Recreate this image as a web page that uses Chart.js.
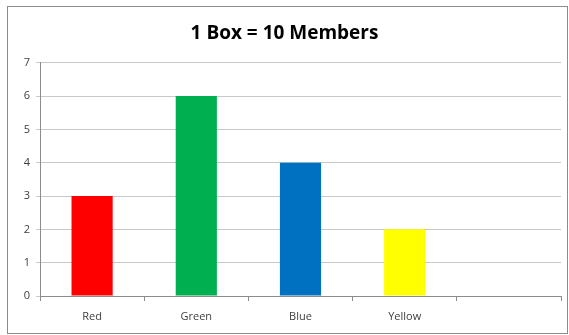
<!DOCTYPE html>
<html>
<head>
<meta charset="utf-8">
<script src="https://cdn.jsdelivr.net/npm/chart.js@4"></script>
<style>
  html, body { margin: 0; padding: 0; background: #fff; }
  #frame {
    position: absolute; left: 7px; top: 6px;
    width: 559px; height: 326px;
    border: 1px solid #8c8c8c;
  }
  #chart { display: block; }
</style>
</head>
<body>
<div id="frame"><canvas id="chart" width="559" height="326"></canvas></div>
<script>
// chart data
const categories = ['Red', 'Green', 'Blue', 'Yellow', ''];
const boxes      = [3, 6, 4, 2, null];
const barColors  = ['#FF0000', '#00B050', '#0070C0', '#FFFF00', '#FFFFFF'];
const titleText  = '1 Box = 10 Members';
const yMax       = 7;

const textColor = '#404040';
const gridColor = '#c8c8c8';

new Chart(document.getElementById('chart'), {
  type: 'bar',
  data: {
    labels: categories,
    datasets: [{
      data: boxes,
      backgroundColor: barColors,
      borderWidth: 0,
      barPercentage: 0.79,
      categoryPercentage: 0.5,
    }],
  },
  options: {
    responsive: false,
    animation: false,
    layout: { padding: { left: 0, right: 6, top: 0, bottom: 0 } },
    plugins: {
      legend: { display: false },
      tooltip: { enabled: false },
      title: {
        display: true,
        text: titleText,
        color: '#000',
        font: { family: 'Open Sans', size: 19, weight: 'bold' },
        padding: { top: 15, bottom: 18 },
      },
    },
    scales: {
      x: {
        grid: {
          offset: true,
          drawOnChartArea: false,
          color: '#8c8c8c',
          tickLength: 5,
        },
        border: { color: '#8c8c8c' },
        ticks: {
          color: textColor,
          font: { family: 'Open Sans', size: 11 },
          padding: 9,
        },
        afterFit: s => { s.height = 37; },
      },
      y: {
        min: 0,
        max: yMax,
        grid: { color: gridColor, tickLength: 4 },
        border: { color: '#8c8c8c' },
        ticks: {
          stepSize: 1,
          color: textColor,
          font: { family: 'Open Sans', size: 11 },
          padding: 6,
        },
        afterFit: s => { s.width = 32; },
      },
    },
  },
});
</script>
</body>
</html>
